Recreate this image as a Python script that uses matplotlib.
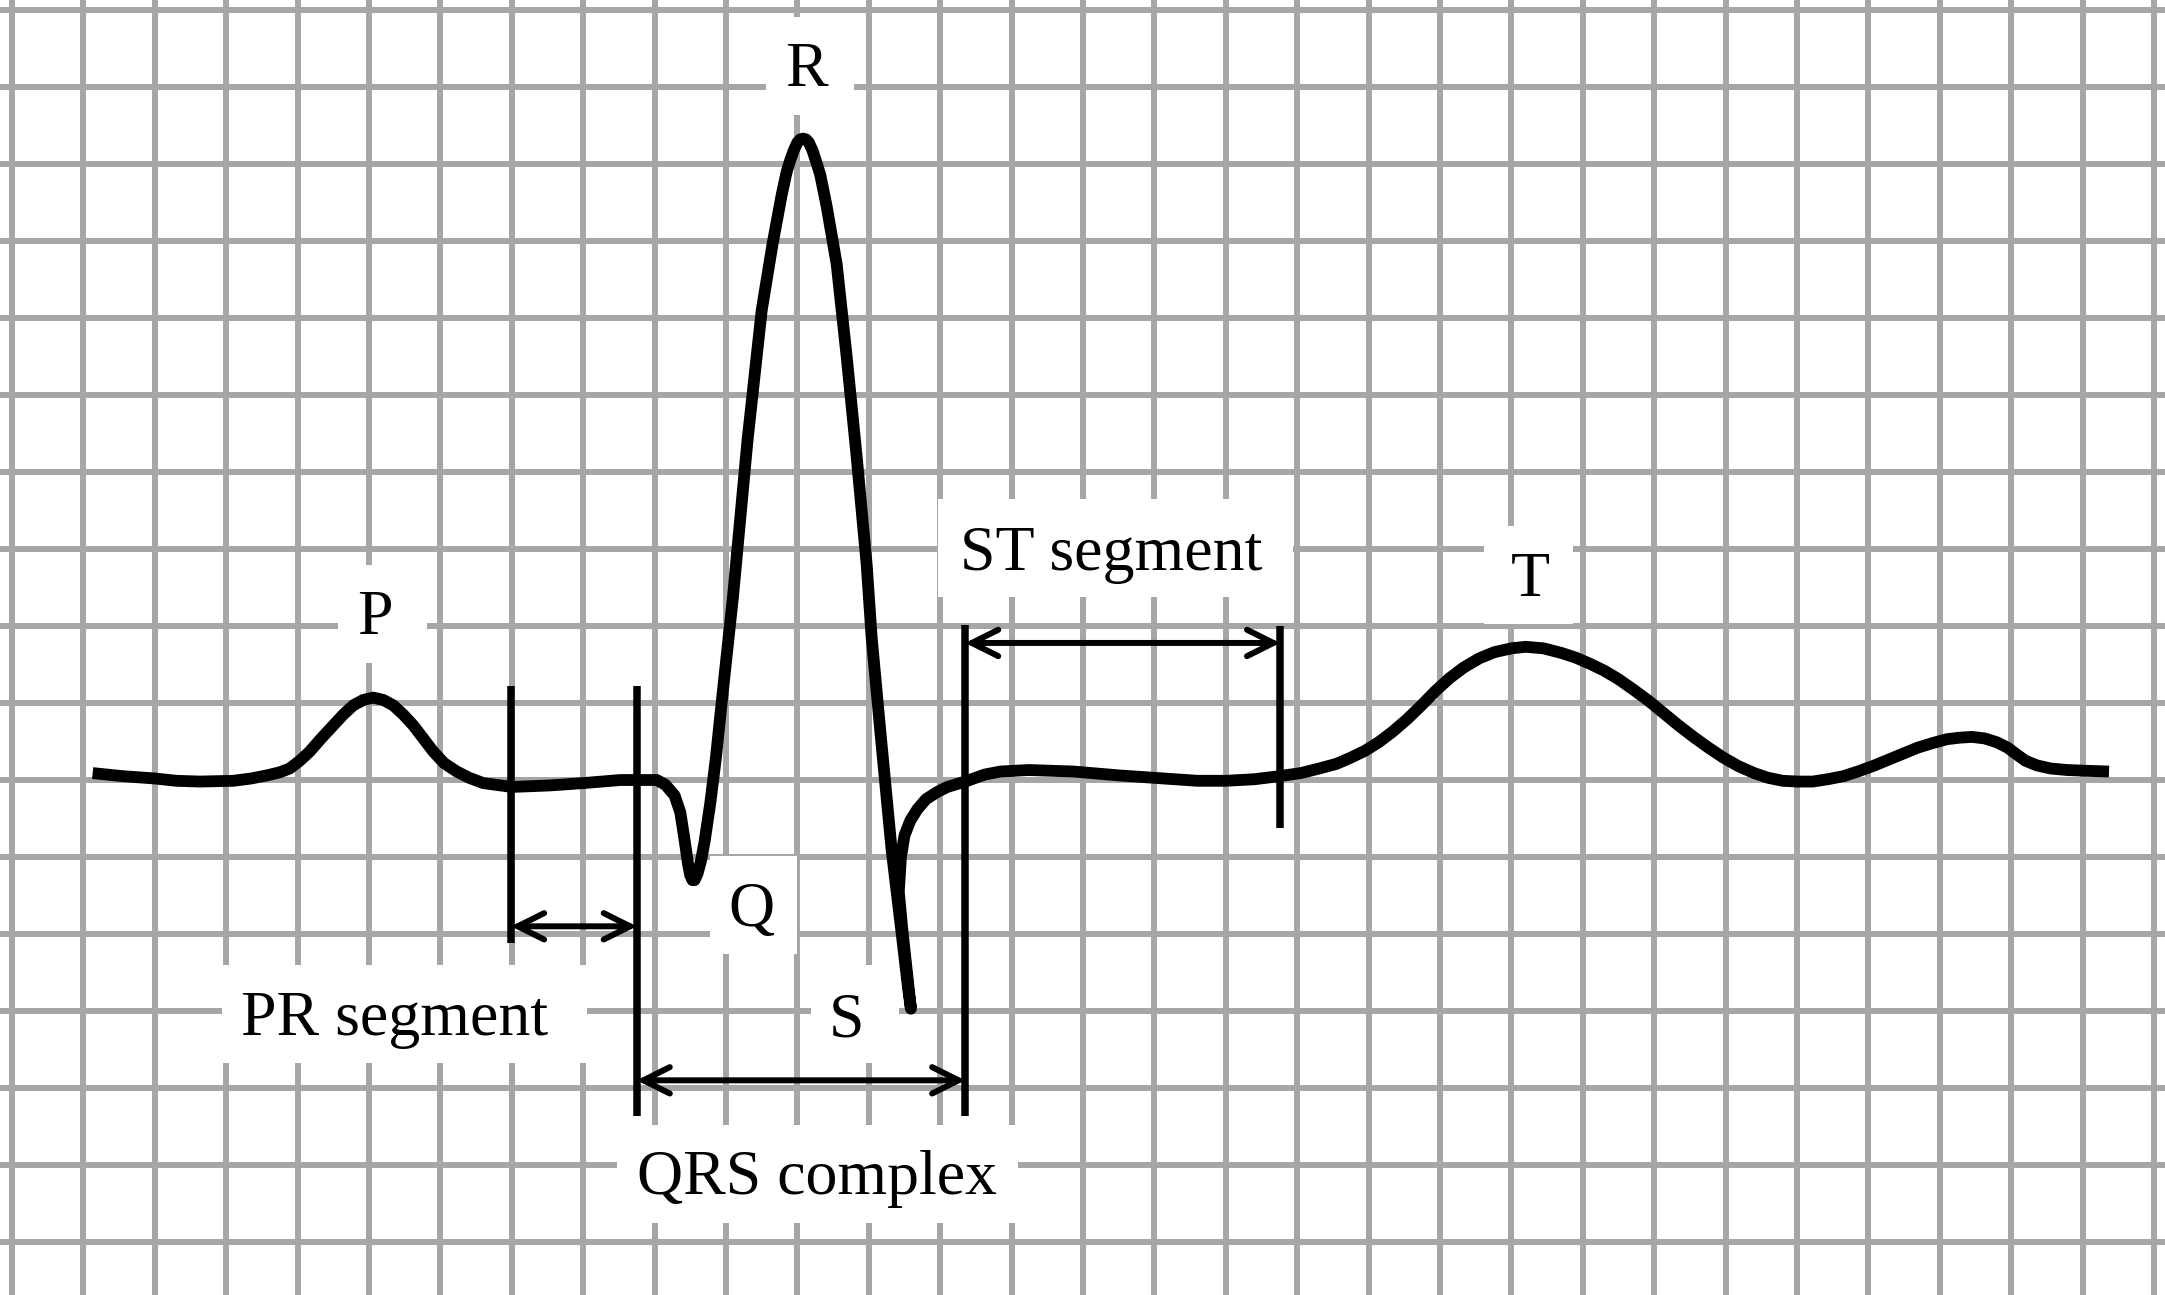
import matplotlib
matplotlib.use("Agg")
import matplotlib.pyplot as plt
from matplotlib.patches import Rectangle

# ECG trace: time in small boxes, amplitude in boxes above baseline
ecg_t = [1.13, 1.55, 2.0, 2.3, 2.63, 3.10, 3.35, 3.57, 3.75, 3.89, 4.03, 4.17, 4.33, 4.50, 4.64,
         4.78, 4.92, 5.06, 5.20, 5.34, 5.48, 5.62, 5.76, 5.90, 6.05, 6.23, 6.40, 6.60, 7.00,
         7.54, 8.00, 8.52, 9.03, 9.15, 9.28, 9.36, 9.42, 9.47, 9.50, 9.53, 9.56, 9.60, 9.65,
         9.70, 9.78, 9.86, 9.95, 10.1, 10.3, 10.5, 10.65, 10.78, 10.85, 10.9, 10.95, 11.0, 11.04,
         11.08, 11.12, 11.16, 11.21, 11.26, 11.32, 11.41, 11.55, 11.69, 11.83, 11.97, 12.04, 12.18,
         12.32, 12.46, 12.55, 12.59, 12.47, 12.42, 12.45, 12.5, 12.58, 12.68, 12.8, 12.95, 13.1,
         13.35, 13.62, 13.84, 14.24, 14.87, 15.5, 16.12, 16.6, 17.0, 17.4, 17.75, 18.05, 18.31,
         18.55, 18.75, 18.95, 19.14, 19.34, 19.54, 19.74, 19.93, 20.13, 20.33, 20.55, 20.76, 21.0,
         21.2, 21.45, 21.7, 21.9, 22.1, 22.3, 22.5, 22.7, 22.92, 23.13, 23.34, 23.55, 23.76, 23.97,
         24.18, 24.4, 24.59, 24.8, 25.01, 25.22, 25.43, 25.65, 25.85, 26.06, 26.27, 26.48, 26.69,
         26.9, 27.1, 27.28, 27.45, 27.63, 27.8, 27.95, 28.08, 28.2, 28.36, 28.55, 28.78, 29.05, 29.37]
ecg_v = [0.09, 0.05, 0.02, -0.01, -0.02, -0.01, 0.02, 0.06, 0.1, 0.15, 0.25, 0.37, 0.54, 0.71, 0.85,
         0.97, 1.04, 1.07, 1.04, 0.97, 0.85, 0.71, 0.54, 0.37, 0.22, 0.11, 0.03, -0.04, -0.09,
         -0.07, -0.04, 0.0, 0.0, -0.06, -0.2, -0.42, -0.78, -1.1, -1.24, -1.3, -1.3, -1.22, -1.05,
         -0.8, -0.3, 0.3, 1.1, 2.4, 4.4, 6.1, 6.95, 7.6, 7.9, 8.05, 8.18, 8.28, 8.32,
         8.33, 8.32, 8.28, 8.18, 8.04, 7.86, 7.45, 6.7, 5.5, 4.2, 2.8, 1.85, 0.45,
         -0.91, -1.99, -2.7, -2.97, -1.95, -1.45, -1.0, -0.72, -0.53, -0.38, -0.25, -0.16, -0.09,
         -0.02, 0.07, 0.11, 0.13, 0.11, 0.06, 0.02, -0.01, -0.01, 0.01, 0.05, 0.09, 0.15,
         0.21, 0.29, 0.38, 0.49, 0.63, 0.79, 0.97, 1.15, 1.32, 1.46, 1.58, 1.66, 1.71,
         1.73, 1.71, 1.65, 1.59, 1.51, 1.42, 1.31, 1.18, 1.03, 0.87, 0.71, 0.56, 0.42, 0.29,
         0.18, 0.09, 0.03, -0.01, -0.02, -0.02, 0.01, 0.05, 0.11, 0.18, 0.26, 0.34, 0.42,
         0.48, 0.53, 0.55, 0.56, 0.54, 0.49, 0.42, 0.33, 0.25, 0.19, 0.15, 0.13, 0.12, 0.11]

# vertical interval markers
marker_x = [6.99, 8.75, 13.35, 17.76]
marker_top = [1.22, 1.22, 2.01, 2.0]
marker_bottom = [-2.12, -4.36, -4.36, -0.62]

# interval arrows
span_start = [6.99, 8.75, 13.35]
span_end = [8.75, 13.35, 17.76]
span_level = [-1.9, -3.9, 1.78]

# labels
labels = ["P", "Q", "R", "S", "T", "PR segment", "QRS complex", "ST segment"]
label_x = [5.08, 10.35, 11.13, 11.69, 21.26, 5.36, 11.28, 15.39]
label_y = [2.17, -1.62, 9.29, -3.05, 2.66, -3.04, -5.1, 3.0]
box_x = [5.19, 10.39, 11.18, 11.81, 21.24, 5.5, 11.28, 15.45]
box_y = [2.16, -1.62, 9.27, -3.04, 2.66, -3.04, -5.12, 3.01]
box_w = [1.25, 1.22, 1.23, 1.23, 1.24, 5.11, 5.62, 4.97]
box_h = 1.27

grid_c = "#a6a6a6"

fig = plt.figure(figsize=(21.65, 12.95), dpi=100)
ax = fig.add_axes([0, 0, 1, 1])
ax.set_xlim(-0.168, 30.154)
ax.set_ylim(-6.688, 10.13)
ax.axis("off")

# ECG paper grid
for k in range(31):
    ax.axvline(k, color=grid_c, lw=4.3, zorder=0)
for k in range(17):
    ax.axhline(10 - k, color=grid_c, lw=4.3, zorder=0)

# white patches behind the labels
for i in range(len(labels)):
    ax.add_patch(Rectangle((box_x[i] - box_w[i] / 2, box_y[i] - box_h / 2), box_w[i], box_h,
                           facecolor="white", edgecolor="none", zorder=1))
    ax.text(label_x[i], label_y[i] - 0.275, labels[i], fontsize=46, family="Liberation Serif",
            ha="center", va="baseline", color="black", zorder=5)

# markers
for i in range(len(marker_x)):
    ax.plot([marker_x[i], marker_x[i]], [marker_bottom[i], marker_top[i]], color="black",
            lw=5.4, solid_capstyle="butt", zorder=3)

# arrows
for i in range(len(span_start)):
    ax.annotate("", xy=(span_end[i], span_level[i]), xytext=(span_start[i], span_level[i]),
                arrowprops=dict(arrowstyle="<->,head_length=1.9,head_width=0.95", lw=4.3,
                                color="black", shrinkA=0, shrinkB=0, mutation_scale=10,
                                capstyle="round", joinstyle="miter"),
                zorder=3)

# the trace
ax.plot(ecg_t, ecg_v, color="black", lw=8.5, solid_joinstyle="round", solid_capstyle="butt", zorder=4)

fig.savefig("out.png", dpi=100)
